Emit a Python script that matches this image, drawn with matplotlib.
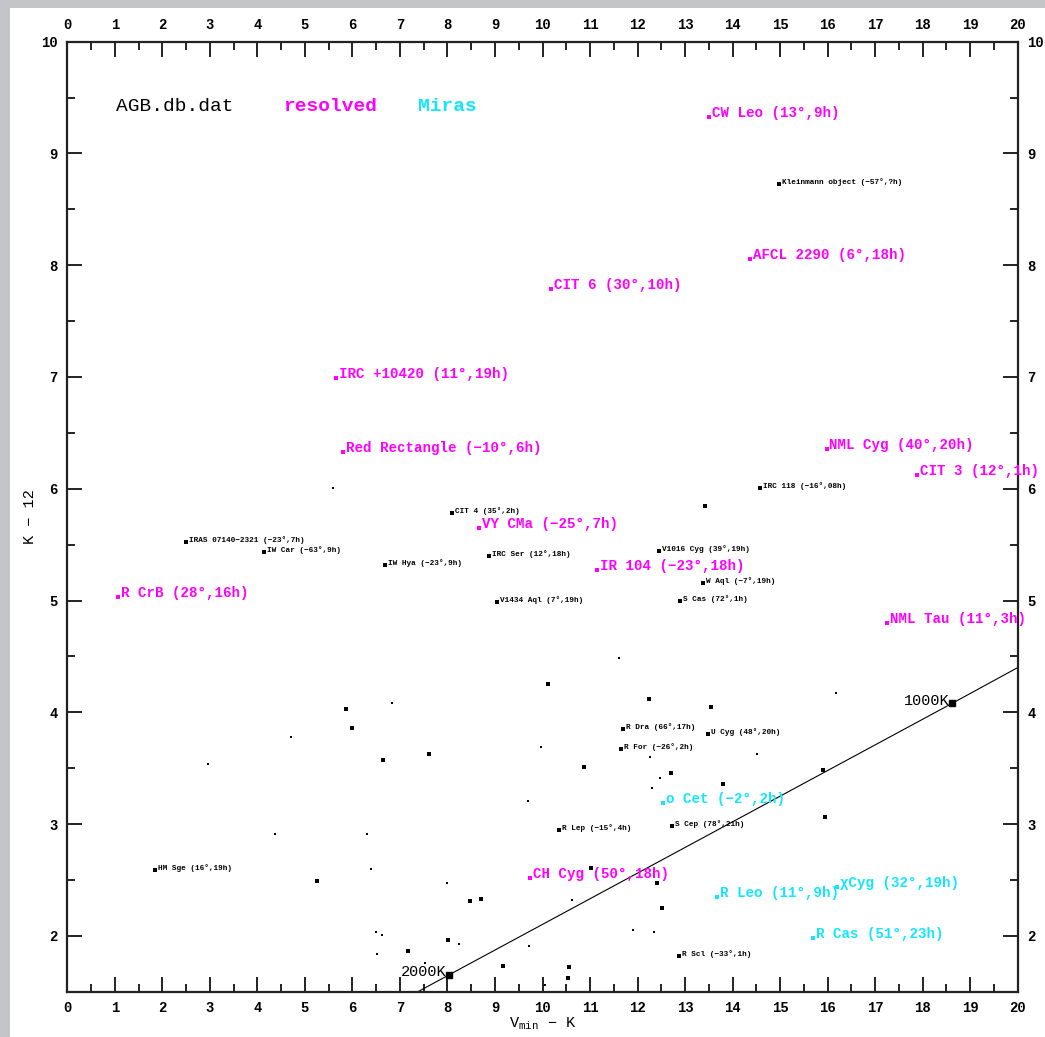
import matplotlib
matplotlib.use("Agg")
import matplotlib.pyplot as plt
from matplotlib.patches import Rectangle

# ---------------------------------------------------------------- data
# unlabelled AGB database stars: (V_min - K, K - 12)
vk_dots = [5.60, 13.42, 11.61, 10.12, 5.87, 16.18, 12.24, 13.55, 6.83, 4.71,
           5.99, 7.61, 6.64, 9.97, 10.87, 12.26, 12.71, 12.47, 12.30, 13.80,
           14.51, 15.94, 15.90, 2.96, 9.69, 4.37, 6.31, 5.26, 6.39, 7.99,
           8.47, 8.71, 6.50, 6.62, 6.52, 7.17, 8.01, 8.24, 7.53, 9.17,
           9.72, 10.62, 11.02, 12.41, 12.52, 11.91, 12.35, 10.56, 10.54, 10.05]
k12_dots = [6.01, 5.85, 4.49, 4.25, 4.03, 4.17, 4.12, 4.05, 4.08, 3.78,
            3.86, 3.63, 3.57, 3.69, 3.51, 3.60, 3.46, 3.41, 3.32, 3.36,
            3.63, 3.06, 3.48, 3.54, 3.21, 2.91, 2.91, 2.49, 2.60, 2.47,
            2.31, 2.33, 2.03, 2.01, 1.84, 1.86, 1.96, 1.93, 1.76, 1.73,
            1.91, 2.32, 2.61, 2.47, 2.25, 2.05, 2.03, 1.72, 1.62, 1.56]
dot_big = [0, 1, 0, 1, 1, 0, 1, 1, 0, 0,
           1, 1, 1, 0, 1, 0, 1, 0, 0, 1,
           0, 1, 1, 0, 0, 0, 0, 1, 0, 0,
           1, 1, 0, 0, 0, 1, 1, 0, 0, 1,
           0, 0, 1, 1, 1, 0, 0, 1, 1, 0]

# named database stars (black)
db_names = ["Kleinmann object (−57°,?h)", "IRC 118 (−16°,08h)", "CIT 4 (35°,2h)",
            "IRAS 07140−2321 (−23°,7h)", "IW Car (−63°,9h)", "IW Hya (−23°,9h)",
            "IRC Ser (12°,18h)", "V1016 Cyg (39°,19h)", "W Aql (−7°,19h)",
            "S Cas (72°,1h)", "V1434 Aql (7°,19h)", "R Dra (66°,17h)",
            "U Cyg (48°,20h)", "R For (−26°,2h)", "R Lep (−15°,4h)",
            "S Cep (78°,21h)", "R Scl (−33°,1h)", "HM Sge (16°,19h)"]
db_vk = [14.98, 14.58, 8.10, 2.50, 4.14, 6.69, 8.87, 12.45, 13.38,
         12.89, 9.04, 11.69, 13.48, 11.66, 10.35, 12.73, 12.87, 1.85]
db_k12 = [8.73, 6.01, 5.78, 5.52, 5.43, 5.32, 5.40, 5.44, 5.16,
          5.00, 4.99, 3.85, 3.81, 3.67, 2.95, 2.98, 1.82, 2.59]

# spatially resolved envelopes (magenta)
res_names = ["CW Leo (13°,9h)", "AFCL 2290 (6°,18h)", "CIT 6 (30°,10h)",
             "IRC +10420 (11°,19h)", "Red Rectangle (−10°,6h)", "NML Cyg (40°,20h)",
             "CIT 3 (12°,1h)", "VY CMa (−25°,7h)", "IR 104 (−23°,18h)",
             "R CrB (28°,16h)", "NML Tau (11°,3h)", "CH Cyg (50°,18h)"]
res_vk = [13.50, 14.37, 10.18, 5.65, 5.80, 15.98, 17.88, 8.66, 11.15, 1.07, 17.25, 9.74]
res_k12 = [9.33, 8.06, 7.79, 6.99, 6.33, 6.36, 6.12, 5.65, 5.27, 5.03, 4.80, 2.52]

# Miras (cyan)
mira_names = ["o Cet (−2°,2h)", "R Leo (11°,9h)", "χCyg (32°,19h)", "R Cas (51°,23h)"]
mira_vk = [12.54, 13.67, 16.20, 15.70]
mira_k12 = [3.19, 2.35, 2.44, 1.98]

# blackbody locus and its labelled temperatures
bb_vk = [7.38, 8.03, 18.62, 20.0]
bb_k12 = [1.50, 1.65, 4.08, 4.40]
temp_labels = ["2000K", "1000K"]
temp_vk = [8.03, 18.62]
temp_k12 = [1.65, 4.08]

x_ticks = list(range(0, 21))
y_ticks = list(range(2, 11))

# ---------------------------------------------------------------- style
MONO = ["Liberation Mono", "DejaVu Sans Mono"]
plt.rcParams["font.family"] = MONO
plt.rcParams["mathtext.fontset"] = "custom"
plt.rcParams["mathtext.rm"] = "Liberation Mono"
plt.rcParams["mathtext.it"] = "Liberation Mono"
MAGENTA = "#ff00ff"
CYAN = "#12e6ff"

fig = plt.figure(figsize=(10.45, 10.37), dpi=100, facecolor="#c4c5c9")
fig.patches.append(Rectangle((10 / 1045, 0), 1, (1037 - 8) / 1037,
                             transform=fig.transFigure, facecolor="white",
                             edgecolor="none", zorder=-10))
ax = fig.add_axes([0.0644, 0.0437, 0.9095, 0.9161])
ax.set_facecolor("white")
ax.set_xlim(0, 20)
ax.set_ylim(1.5, 10)

ax.set_xticks(x_ticks)
ax.set_yticks(y_ticks)
ax.set_xticks([t + 0.5 for t in x_ticks[:-1]], minor=True)
ax.set_yticks([t + 0.5 for t in [1] + y_ticks[:-1]], minor=True)
ax.tick_params(which="both", direction="in", top=True, right=True,
               labeltop=True, labelright=True, width=1.4, color="#222222")
ax.tick_params(which="major", length=11, labelsize=10, pad=7)
ax.tick_params(which="minor", length=5.5)
for lab in ax.get_xticklabels() + ax.get_yticklabels():
    lab.set_fontweight("bold")
for s in ax.spines.values():
    s.set_linewidth(1.6)
    s.set_color("#222222")

ax.set_xlabel(r"V$_{\rm min}$ − K", fontsize=11, labelpad=0)
ax.set_ylabel("K − 12", fontsize=11, labelpad=3)

# ---------------------------------------------------------------- marks
big = [i for i, b in enumerate(dot_big) if b]
small = [i for i, b in enumerate(dot_big) if not b]
ax.plot([vk_dots[i] for i in big], [k12_dots[i] for i in big], "s",
        color="black", markersize=2.6, markeredgewidth=0, clip_on=False)
ax.plot([vk_dots[i] for i in small], [k12_dots[i] for i in small], "s",
        color="black", markersize=1.6, markeredgewidth=0, clip_on=False)

ax.plot(bb_vk, bb_k12, color="black", lw=0.8)
ax.plot(temp_vk, temp_k12, "s", color="black", markersize=5)
for name, x, y in zip(temp_labels, temp_vk, temp_k12):
    ax.annotate(name, (x, y), xytext=(-2, 2), textcoords="offset points",
                ha="right", va="center", fontsize=11)


def label_points(names, xs, ys, color, size, weight, msize):
    ax.plot(xs, ys, "s", color=color, markersize=msize, markeredgewidth=0)
    for name, x, y in zip(names, xs, ys):
        ax.annotate(name, (x, y), xytext=(2, 0), textcoords="offset points",
                    ha="left", va="baseline", fontsize=size, color=color,
                    fontweight=weight)


label_points(db_names, db_vk, db_k12, "black", 5.6, "bold", 2.2)
label_points(res_names, res_vk, res_k12, MAGENTA, 10.2, "bold", 3)
label_points(mira_names, mira_vk, mira_k12, CYAN, 10.2, "bold", 3)

ax.text(1.03, 9.42, "AGB.db.dat", fontsize=14, color="black", va="center")
ax.text(4.54, 9.42, "resolved", fontsize=14, color=MAGENTA, va="center",
        fontweight="bold")
ax.text(7.38, 9.42, "Miras", fontsize=14, color=CYAN, va="center",
        fontweight="bold")

fig.savefig("out.png", dpi=100, facecolor=fig.get_facecolor())
